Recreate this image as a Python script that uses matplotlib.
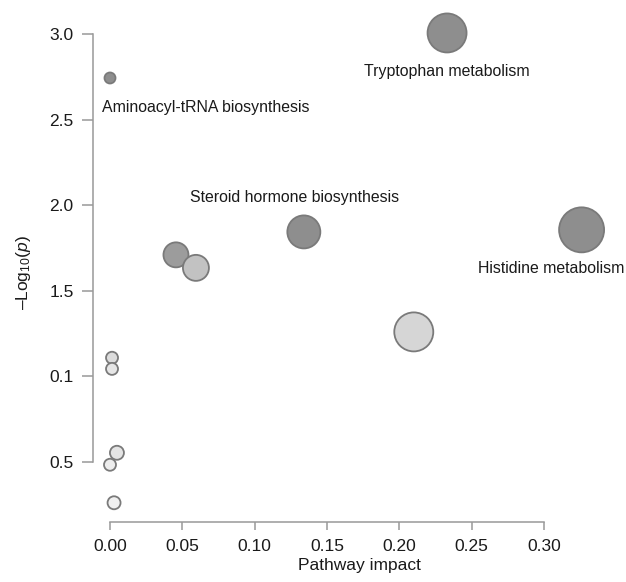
import matplotlib.pyplot as plt

plt.rcParams['font.family'] = ['Liberation Sans', 'DejaVu Sans']
plt.rcParams['mathtext.fontset'] = 'custom'
plt.rcParams['mathtext.rm'] = 'Liberation Sans'
plt.rcParams['mathtext.it'] = 'Liberation Sans:italic'

# pathway analysis results
impact = [0.000, 0.233, 0.326, 0.134, 0.0456, 0.0594, 0.210, 0.0014, 0.0014, 0.0048, 0.000, 0.0028]
neglogp = [2.743, 3.006, 1.856, 1.844, 1.710, 1.634, 1.260, 1.109, 1.044, 0.554, 0.484, 0.262]
radius_px = [5.5, 19.5, 22.5, 16.5, 12.5, 13, 19.5, 6, 6, 7, 6, 6.5]
shade = ['#8e8e8e', '#8e8e8e', '#8e8e8e', '#8e8e8e', '#9c9c9c', '#c2c2c2',
         '#d6d6d6', '#dcdcdc', '#e6e6e6', '#e4e4e4', '#ededed', '#f0f0f0']

names = ['Aminoacyl-tRNA biosynthesis', 'Tryptophan metabolism',
         'Histidine metabolism', 'Steroid hormone biosynthesis']
name_idx = [0, 1, 2, 3]
name_offset = [(-6, -21.5), (0, -28), (-22, -27.5), (-6.5, 25)]
name_ha = ['left', 'center', 'center', 'center']

xticks = [0.00, 0.05, 0.10, 0.15, 0.20, 0.25, 0.30]
yticks = [0.5, 1.0, 1.5, 2.0, 2.5, 3.0]
ytick_labels = ['0.5', '0.1', '1.5', '2.0', '2.5', '3.0']

fig = plt.figure(figsize=(6.26, 5.82), dpi=100)
W, H = 626, 582
ax = fig.add_axes([93 / W, 60 / H, (W - 93) / W, 522 / H])

sizes = [(2 * r * 0.72) ** 2 for r in radius_px]
ax.scatter(impact, neglogp, s=sizes, c=shade, edgecolors='#7a7a7a',
           linewidths=1.3, zorder=3)

for i, n in enumerate(names):
    k = name_idx[i]
    ax.annotate(n, (impact[k], neglogp[k]), xytext=name_offset[i],
                textcoords='offset points', ha=name_ha[i], va='center',
                fontsize=11.4, color='#1a1a1a')

ax.set_xlim(-0.01175, 0.3567)
ax.set_ylim(0.1497, 3.1985)
ax.set_xticks(xticks)
ax.set_xticklabels(['%.2f' % v for v in xticks])
ax.set_yticks(yticks)
ax.set_yticklabels(ytick_labels)

for s in ['top', 'right']:
    ax.spines[s].set_visible(False)
for s in ['left', 'bottom']:
    ax.spines[s].set_color('#999999')
    ax.spines[s].set_linewidth(1.1)
ax.spines['left'].set_bounds(0.5, 3.0)
ax.spines['bottom'].set_bounds(0.0, 0.30)

ax.tick_params(axis='y', length=8, width=1.1, color='#999999', pad=6,
               labelsize=12.5, labelcolor='#1a1a1a')
ax.tick_params(axis='x', length=6, width=1.1, color='#999999', pad=6,
               labelsize=12.5, labelcolor='#1a1a1a')

ax.set_xlabel('Pathway impact', fontsize=12.5, color='#1a1a1a', labelpad=3)
ax.set_ylabel('\u2013Log$_{10}$($\\mathit{p}$)', fontsize=12.5, color='#1a1a1a')
ax.yaxis.set_label_coords(-0.112, 0.478)

fig.savefig('out.png', dpi=100)
